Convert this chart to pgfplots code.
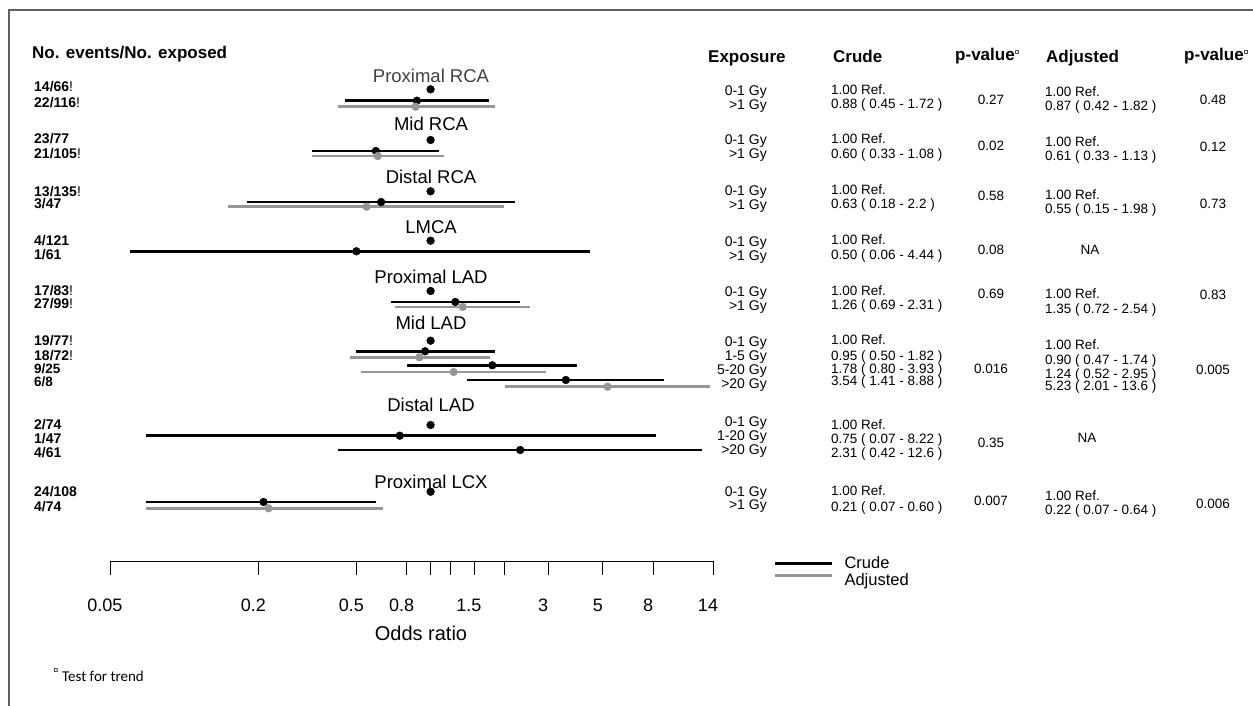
\documentclass[border=0pt]{standalone}
\usepackage{fontspec}
\setmainfont{Liberation Sans}
\newfontfamily\carlito{Carlito}
\usepackage{pgfplots}
\pgfplotsset{compat=1.18}
\definecolor{adjgray}{RGB}{150,150,150}
\definecolor{framegray}{RGB}{95,95,95}
\newcommand{\fs}[1]{\fontsize{#1}{#1}\selectfont}
\tikzset{
  lab/.style={anchor=west, inner sep=0pt, text height=10pt, text depth=0pt, font=\fs{14}\bfseries},
  hdr/.style={anchor=west, inner sep=0pt, text height=12pt, text depth=0pt, font=\fs{17}\bfseries},
  expo/.style={anchor=east, inner sep=0pt, text height=10pt, text depth=0pt, font=\fs{14}},
  val/.style={anchor=west, inner sep=0pt, text height=9.6pt, text depth=0pt, font=\fs{13.5}},
  pv/.style={anchor=center, inner sep=0pt, text height=9.6pt, text depth=0pt, font=\fs{13.5}},
  blk/.style={anchor=center, inner sep=0pt, text height=13.2pt, text depth=0pt, font=\fs{18.5}},
  tl/.style={anchor=center, inner sep=0pt, text height=13pt, text depth=0pt, font=\fs{18}, xshift=-5pt},
}
\newcommand{\cur}{\raisebox{5pt}{\fs{9}\mdseries ¤}}
\begin{document}
\begin{tikzpicture}[x=1pt,y=1pt]
\useasboundingbox (0,0) rectangle (1253,-706);
\draw[framegray, line width=1.6pt] (9,-720) -- (9,-10) -- (1270,-10);

\begin{axis}[
  at={(110pt,-561pt)}, anchor=south west,
  scale only axis, width=603pt, height=501pt,
  xmode=log, xmin=0.05, xmax=14, ymin=-561, ymax=-60,
  clip=false,
  axis x line=bottom, axis y line=none,
  axis line style={-, black, line width=0.8pt},
  xtick={0.05,0.2,0.5,0.8,1,1.2,1.5,2,3,5,8,14},
  xticklabels={,,,,,,,,,,,},
  xminorticks=false,
  xtick align=outside,
  major tick length=14pt,
  tick style={black, line width=0.8pt},
  legend style={at={(1.0995,0.012)}, anchor=north west, draw=none, fill=none,
    font=\fs{16.5}, row sep=0pt, inner sep=0pt, nodes={inner sep=1.5pt, anchor=west}},
  legend cell align=left,
  legend image code/.code={\draw[#1, line width=2.8pt] (0pt,0pt) -- (57pt,0pt);},
  crude/.style={black, line width=2.8pt},
  adj/.style={adjgray, line width=2.8pt},
  cdot/.style={only marks, mark=*, mark size=3.9pt, black, forget plot},
  adot/.style={only marks, mark=*, mark size=3.9pt, adjgray, forget plot},
]
% legend carriers: first crude and first adjusted interval
\addplot[crude] coordinates {(0.45,-100.7) (1.72,-100.7)};
\addplot[adj, legend image post style={yshift=4pt}] coordinates {(0.42,-106.7) (1.82,-106.7)};
\legend{\hspace{10pt}Crude, \hspace{10pt}Adjusted}

% reference dots (OR = 1)
\addplot[cdot] coordinates {(1,-89.3) (1,-140) (1,-191.3) (1,-240.7) (1,-291) (1,-340.7) (1,-425) (1,-491.7)};

% Proximal RCA
\addplot[cdot] coordinates {(0.88,-100.7)};
\addplot[adot] coordinates {(0.87,-106.7)};
% Mid RCA
\addplot[crude, forget plot] coordinates {(0.33,-151) (1.08,-151)};
\addplot[cdot] coordinates {(0.60,-151)};
\addplot[adj, forget plot] coordinates {(0.33,-156) (1.13,-156)};
\addplot[adot] coordinates {(0.61,-156)};
% Distal RCA
\addplot[crude, forget plot] coordinates {(0.18,-202) (2.2,-202)};
\addplot[cdot] coordinates {(0.63,-202)};
\addplot[adj, forget plot] coordinates {(0.15,-206.7) (1.98,-206.7)};
\addplot[adot] coordinates {(0.55,-206.7)};
% LMCA
\addplot[crude, forget plot] coordinates {(0.06,-251.3) (4.44,-251.3)};
\addplot[cdot] coordinates {(0.50,-251.3)};
% Proximal LAD
\addplot[crude, forget plot] coordinates {(0.69,-302) (2.31,-302)};
\addplot[cdot] coordinates {(1.26,-302)};
\addplot[adj, forget plot] coordinates {(0.72,-307) (2.54,-307)};
\addplot[adot] coordinates {(1.35,-307)};
% Mid LAD
\addplot[crude, forget plot] coordinates {(0.50,-351.3) (1.82,-351.3)};
\addplot[cdot] coordinates {(0.95,-351.3)};
\addplot[adj, forget plot] coordinates {(0.47,-357.3) (1.74,-357.3)};
\addplot[adot] coordinates {(0.90,-357.3)};
\addplot[crude, forget plot] coordinates {(0.80,-365.3) (3.93,-365.3)};
\addplot[cdot] coordinates {(1.78,-365.3)};
\addplot[adj, forget plot] coordinates {(0.52,-372) (2.95,-372)};
\addplot[adot] coordinates {(1.24,-372)};
\addplot[crude, forget plot] coordinates {(1.41,-380) (8.88,-380)};
\addplot[cdot] coordinates {(3.54,-380)};
\addplot[adj, forget plot] coordinates {(2.01,-386.7) (13.6,-386.7)};
\addplot[adot] coordinates {(5.23,-386.7)};
% Distal LAD
\addplot[crude, forget plot] coordinates {(0.07,-435.7) (8.22,-435.7)};
\addplot[cdot] coordinates {(0.75,-435.7)};
\addplot[crude, forget plot] coordinates {(0.42,-450) (12.6,-450)};
\addplot[cdot] coordinates {(2.31,-450)};
% Proximal LCX
\addplot[crude, forget plot] coordinates {(0.07,-502) (0.60,-502)};
\addplot[cdot] coordinates {(0.21,-502)};
\addplot[adj, forget plot] coordinates {(0.07,-508.3) (0.64,-508.3)};
\addplot[adot] coordinates {(0.22,-508.3)};

% tick labels
\node[tl] at (axis cs:0.05,-605) {0.05};
\node[tl] at (axis cs:0.2,-605) {0.2};
\node[tl] at (axis cs:0.5,-605) {0.5};
\node[tl] at (axis cs:0.8,-605) {0.8};
\node[tl] at (axis cs:1.5,-605) {1.5};
\node[tl] at (axis cs:3,-605) {3};
\node[tl] at (axis cs:5,-605) {5};
\node[tl] at (axis cs:8,-605) {8};
\node[tl] at (axis cs:14,-605) {14};
\end{axis}

% axis title
\node[anchor=center, inner sep=0pt, text height=14pt, text depth=0pt, font=\fs{20}] at (421,-633) {Odds ratio};

% block labels
\node[blk, text=black!75] at (431,-76) {Proximal RCA};
\node[blk] at (431,-124) {Mid RCA};
\node[blk] at (431,-176.7) {Distal RCA};
\node[blk] at (431,-226.7) {LMCA};
\node[blk] at (431,-276.7) {Proximal LAD};
\node[blk] at (431,-323.3) {Mid LAD};
\node[blk] at (431,-405.3) {Distal LAD};
\node[blk] at (431,-481.7) {Proximal LCX};

% left column
\node[hdr] at (32,-52.3) {No. events/No. exposed};
\node[lab] at (34,-86.7) {14/66\mdseries!};
\node[lab] at (34,-102.7) {22/116\mdseries!};
\node[lab] at (34,-138.3) {23/77};
\node[lab] at (34,-153.3) {21/105\mdseries!};
\node[lab] at (34,-191) {13/135\mdseries!};
\node[lab] at (34,-203.3) {3/47};
\node[lab] at (34,-240) {4/121};
\node[lab] at (34,-254) {1/61};
\node[lab] at (34,-290) {17/83\mdseries!};
\node[lab] at (34,-303) {27/99\mdseries!};
\node[lab] at (34,-340.7) {19/77\mdseries!};
\node[lab] at (34,-355.3) {18/72\mdseries!};
\node[lab, font=\fs{13.5}\bfseries] at (34,-368.8) {9/25};
\node[lab, font=\fs{13.5}\bfseries] at (34,-381.2) {6/8};
\node[lab] at (34,-424.3) {2/74};
\node[lab] at (34,-438.3) {1/47};
\node[lab] at (34,-452.3) {4/61};
\node[lab] at (34,-491) {24/108};
\node[lab] at (34,-506.7) {4/74};

% headers of the table
\node[hdr] at (708,-57) {Exposure};
\node[hdr] at (833,-57) {Crude};
\node[hdr] at (955,-55) {p-value\cur};
\node[hdr] at (1046,-57) {Adjusted};
\node[hdr] at (1184,-55) {p-value\cur};

% exposure column
\node[expo] at (767,-90.7) {0-1 Gy};   \node[expo] at (767,-105) {>1 Gy};
\node[expo] at (767,-139.3) {0-1 Gy};  \node[expo] at (767,-153.3) {>1 Gy};
\node[expo] at (767,-190.7) {0-1 Gy};  \node[expo] at (767,-204.3) {>1 Gy};
\node[expo] at (767,-241) {0-1 Gy};    \node[expo] at (767,-255) {>1 Gy};
\node[expo] at (767,-291) {0-1 Gy};    \node[expo] at (767,-305) {>1 Gy};
\node[expo] at (767,-341) {0-1 Gy};    \node[expo] at (767,-355.3) {1-5 Gy};
\node[expo] at (767,-369.3) {5-20 Gy}; \node[expo] at (767,-383.3) {>20 Gy};
\node[expo] at (767,-421.7) {0-1 Gy};  \node[expo] at (767,-435.3) {1-20 Gy};
\node[expo] at (767,-449.5) {>20 Gy};
\node[expo] at (767,-491) {0-1 Gy};    \node[expo] at (767,-504.7) {>1 Gy};

% crude estimates
\node[val] at (831,-89.3) {1.00 Ref.};  \node[val] at (831,-104) {0.88 ( 0.45 - 1.72 )};
\node[val] at (831,-138.7) {1.00 Ref.}; \node[val] at (831,-153.3) {0.60 ( 0.33 - 1.08 )};
\node[val] at (831,-190) {1.00 Ref.};   \node[val] at (831,-203.3) {0.63 ( 0.18 - 2.2 )};
\node[val] at (831,-240) {1.00 Ref.};   \node[val] at (831,-255) {0.50 ( 0.06 - 4.44 )};
\node[val] at (831,-290.7) {1.00 Ref.}; \node[val] at (831,-304.3) {1.26 ( 0.69 - 2.31 )};
\node[val] at (831,-340) {1.00 Ref.};   \node[val] at (831,-355.3) {0.95 ( 0.50 - 1.82 )};
\node[val] at (831,-368.7) {1.78 ( 0.80 - 3.93 )}; \node[val] at (831,-380.7) {3.54 ( 1.41 - 8.88 )};
\node[val] at (831,-424.3) {1.00 Ref.}; \node[val] at (831,-439) {0.75 ( 0.07 - 8.22 )};
\node[val] at (831,-452.7) {2.31 ( 0.42 - 12.6 )};
\node[val] at (831,-491) {1.00 Ref.};   \node[val] at (831,-506.7) {0.21 ( 0.07 - 0.60 )};

% crude p-values
\node[pv] at (991,-99.5) {0.27};
\node[pv] at (991,-145.5) {0.02};
\node[pv] at (991,-196) {0.58};
\node[pv] at (991,-250) {0.08};
\node[pv] at (991,-293.3) {0.69};
\node[pv] at (991,-369) {0.016};
\node[pv] at (991,-442.3) {0.35};
\node[pv] at (991,-500.7) {0.007};

% adjusted estimates
\node[val] at (1045,-91.7) {1.00 Ref.};  \node[val] at (1045,-105.7) {0.87 ( 0.42 - 1.82 )};
\node[val] at (1045,-141.7) {1.00 Ref.}; \node[val] at (1045,-156) {0.61 ( 0.33 - 1.13 )};
\node[val] at (1045,-195) {1.00 Ref.};   \node[val] at (1045,-208.3) {0.55 ( 0.15 - 1.98 )};
\node[pv]  at (1090,-249.3) {NA};
\node[val] at (1045,-294) {1.00 Ref.};   \node[val] at (1045,-309) {1.35 ( 0.72 - 2.54 )};
\node[val] at (1045,-345) {1.00 Ref.};   \node[val] at (1045,-359.3) {0.90 ( 0.47 - 1.74 )};
\node[val] at (1045,-373.3) {1.24 ( 0.52 - 2.95 )}; \node[val] at (1045,-386) {5.23 ( 2.01 - 13.6 )};
\node[pv]  at (1087,-437.7) {NA};
\node[val] at (1045,-496) {1.00 Ref.};   \node[val] at (1045,-510) {0.22 ( 0.07 - 0.64 )};

% adjusted p-values
\node[pv] at (1213,-100) {0.48};
\node[pv] at (1213,-146.7) {0.12};
\node[pv] at (1213,-203.3) {0.73};
\node[pv] at (1213,-295) {0.83};
\node[pv] at (1213,-370) {0.005};
\node[pv] at (1213,-504) {0.006};

% footnote
\node[inner sep=0pt, font=\fs{9}] at (56,-671) {¤};
\node[anchor=west, inner sep=0pt, text height=10pt, text depth=0pt, font=\carlito\fs{15}] at (62,-676) {Test for trend};
\end{tikzpicture}
\end{document}
